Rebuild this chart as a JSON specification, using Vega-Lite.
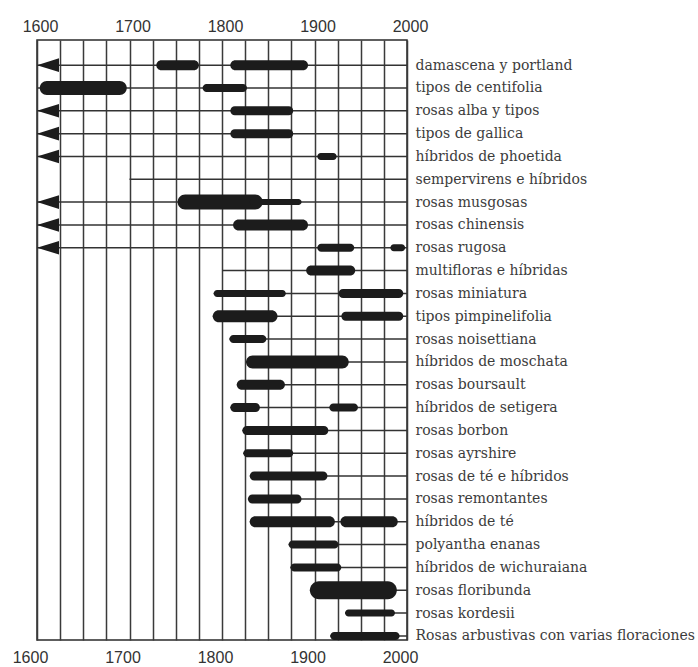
{
  "$schema": "https://vega.github.io/schema/vega-lite/v6.json",
  "autosize": "none",
  "width": 370,
  "height": 600,
  "padding": {"left": 37, "top": 40, "right": 291, "bottom": 27},
  "background": "white",
  "config": {
    "view": {"stroke": "#2a2a2a", "strokeWidth": 1.5},
    "axis": {"ticks": false, "domain": false, "title": null}
  },
  "datasets": {
    "filas": [
      {"grupo": "damascena y portland", "inicio": 1600, "flecha": true},
      {"grupo": "tipos de centifolia", "inicio": 1600, "flecha": false},
      {"grupo": "rosas alba y tipos", "inicio": 1600, "flecha": true},
      {"grupo": "tipos de gallica", "inicio": 1600, "flecha": true},
      {"grupo": "híbridos de phoetida", "inicio": 1600, "flecha": true},
      {"grupo": "sempervirens e híbridos", "inicio": 1700, "flecha": false},
      {"grupo": "rosas musgosas", "inicio": 1600, "flecha": true},
      {"grupo": "rosas chinensis", "inicio": 1600, "flecha": true},
      {"grupo": "rosas rugosa", "inicio": 1600, "flecha": true},
      {"grupo": "multifloras e híbridas", "inicio": 1800, "flecha": false},
      {"grupo": "rosas miniatura", "inicio": 1791, "flecha": false},
      {"grupo": "tipos pimpinelifolia", "inicio": 1790, "flecha": false},
      {"grupo": "rosas noisettiana", "inicio": 1808, "flecha": false},
      {"grupo": "híbridos de moschata", "inicio": 1826, "flecha": false},
      {"grupo": "rosas boursault", "inicio": 1816, "flecha": false},
      {"grupo": "híbridos de setigera", "inicio": 1809, "flecha": false},
      {"grupo": "rosas borbon", "inicio": 1822, "flecha": false},
      {"grupo": "rosas ayrshire", "inicio": 1823, "flecha": false},
      {"grupo": "rosas de té e híbridos", "inicio": 1830, "flecha": false},
      {"grupo": "rosas remontantes", "inicio": 1828, "flecha": false},
      {"grupo": "híbridos de té", "inicio": 1830, "flecha": false},
      {"grupo": "polyantha enanas", "inicio": 1872, "flecha": false},
      {"grupo": "híbridos de wichuraiana", "inicio": 1874, "flecha": false},
      {"grupo": "rosas floribunda", "inicio": 1895, "flecha": false},
      {"grupo": "rosas kordesii", "inicio": 1933, "flecha": false},
      {"grupo": "Rosas arbustivas con varias floraciones", "inicio": 1917, "flecha": false}
    ],
    "elipses": [
      {"grupo": "damascena y portland", "desde": 1729, "hasta": 1775, "popularidad": 5},
      {"grupo": "damascena y portland", "desde": 1809, "hasta": 1893, "popularidad": 5},
      {"grupo": "tipos de centifolia", "desde": 1603, "hasta": 1697, "popularidad": 7},
      {"grupo": "tipos de centifolia", "desde": 1779, "hasta": 1827, "popularidad": 4},
      {"grupo": "rosas alba y tipos", "desde": 1809, "hasta": 1877, "popularidad": 4.5},
      {"grupo": "tipos de gallica", "desde": 1809, "hasta": 1877, "popularidad": 4.5},
      {"grupo": "híbridos de phoetida", "desde": 1903, "hasta": 1924, "popularidad": 3.5},
      {"grupo": "rosas musgosas", "desde": 1752, "hasta": 1844, "popularidad": 7.5},
      {"grupo": "rosas musgosas", "desde": 1830, "hasta": 1886, "popularidad": 3},
      {"grupo": "rosas chinensis", "desde": 1812, "hasta": 1893, "popularidad": 5.5},
      {"grupo": "rosas rugosa", "desde": 1903, "hasta": 1943, "popularidad": 4},
      {"grupo": "rosas rugosa", "desde": 1982, "hasta": 1998, "popularidad": 3.5},
      {"grupo": "multifloras e híbridas", "desde": 1891, "hasta": 1944, "popularidad": 5},
      {"grupo": "rosas miniatura", "desde": 1791, "hasta": 1869, "popularidad": 3.5},
      {"grupo": "rosas miniatura", "desde": 1926, "hasta": 1996, "popularidad": 4.5},
      {"grupo": "tipos pimpinelifolia", "desde": 1790, "hasta": 1860, "popularidad": 6},
      {"grupo": "tipos pimpinelifolia", "desde": 1929, "hasta": 1996, "popularidad": 4.5},
      {"grupo": "rosas noisettiana", "desde": 1808, "hasta": 1848, "popularidad": 4},
      {"grupo": "híbridos de moschata", "desde": 1826, "hasta": 1937, "popularidad": 6.5},
      {"grupo": "rosas boursault", "desde": 1816, "hasta": 1868, "popularidad": 5},
      {"grupo": "híbridos de setigera", "desde": 1809, "hasta": 1841, "popularidad": 4.5},
      {"grupo": "híbridos de setigera", "desde": 1916, "hasta": 1947, "popularidad": 4},
      {"grupo": "rosas borbon", "desde": 1822, "hasta": 1915, "popularidad": 4.5},
      {"grupo": "rosas ayrshire", "desde": 1823, "hasta": 1877, "popularidad": 4},
      {"grupo": "rosas de té e híbridos", "desde": 1830, "hasta": 1914, "popularidad": 4.5},
      {"grupo": "rosas remontantes", "desde": 1828, "hasta": 1886, "popularidad": 4.5},
      {"grupo": "híbridos de té", "desde": 1830, "hasta": 1922, "popularidad": 5.5},
      {"grupo": "híbridos de té", "desde": 1928, "hasta": 1990, "popularidad": 5.5},
      {"grupo": "polyantha enanas", "desde": 1872, "hasta": 1926, "popularidad": 4},
      {"grupo": "híbridos de wichuraiana", "desde": 1874, "hasta": 1929, "popularidad": 4},
      {"grupo": "rosas floribunda", "desde": 1895, "hasta": 1989, "popularidad": 9},
      {"grupo": "rosas kordesii", "desde": 1933, "hasta": 1987, "popularidad": 3.5},
      {"grupo": "Rosas arbustivas con varias floraciones", "desde": 1917, "hasta": 1992, "popularidad": 4}
    ]
  },
  "layer": [
    {
      "data": {"name": "filas"},
      "mark": {"type": "rule", "color": "#333333", "strokeWidth": 1.5},
      "encoding": {
        "x": {
          "field": "inicio", "type": "quantitative",
          "scale": {"domain": [1600, 2000], "nice": false, "zero": false},
          "axis": {
            "orient": "bottom",
            "values": [1600, 1625, 1650, 1675, 1700, 1725, 1750, 1775, 1800, 1825, 1850, 1875, 1900, 1925, 1950, 1975, 2000],
            "format": "d",
            "labelExpr": "datum.value % 100 === 0 ? datum.label : ''",
            "labelFlush": false,
            "grid": true, "gridColor": "#3a3a3a", "gridWidth": 1.5,
            "labelFont": "Liberation Sans", "labelFontSize": 16, "labelColor": "#333333",
            "labelPadding": 9, "labelOffset": -7
          }
        },
        "x2": {"datum": 2000},
        "y": {
          "field": "grupo", "type": "nominal",
          "scale": {
            "type": "point", "padding": 0.64, "align": 0.86,
            "domain": ["damascena y portland", "tipos de centifolia", "rosas alba y tipos", "tipos de gallica", "híbridos de phoetida", "sempervirens e híbridos", "rosas musgosas", "rosas chinensis", "rosas rugosa", "multifloras e híbridas", "rosas miniatura", "tipos pimpinelifolia", "rosas noisettiana", "híbridos de moschata", "rosas boursault", "híbridos de setigera", "rosas borbon", "rosas ayrshire", "rosas de té e híbridos", "rosas remontantes", "híbridos de té", "polyantha enanas", "híbridos de wichuraiana", "rosas floribunda", "rosas kordesii", "Rosas arbustivas con varias floraciones"]
          },
          "axis": {
            "orient": "right", "grid": false,
            "labelFont": "DejaVu Serif", "labelFontSize": 14, "labelColor": "#3c3c3c",
            "labelPadding": 8, "labelLimit": 400
          }
        }
      }
    },
    {
      "data": {"name": "elipses"},
      "mark": {"type": "bar", "color": "#1c1c1c", "cornerRadius": 30},
      "encoding": {
        "x": {
          "field": "desde", "type": "quantitative",
          "axis": {
            "orient": "top",
            "values": [1600, 1700, 1800, 1900, 2000],
            "format": "d",
            "labelFlush": false,
            "grid": false,
            "labelFont": "Liberation Sans", "labelFontSize": 16, "labelColor": "#333333",
            "labelPadding": 6, "labelOffset": 3
          }
        },
        "x2": {"field": "hasta"},
        "y": {"field": "grupo", "type": "nominal"},
        "size": {
          "field": "popularidad", "type": "quantitative",
          "scale": {"domain": [0, 10], "range": [0, 20]},
          "legend": null
        }
      }
    },
    {
      "data": {"name": "filas"},
      "transform": [{"filter": "datum.flecha"}],
      "mark": {"type": "point", "filled": true, "opacity": 1, "color": "#1c1c1c", "size": 484, "shape": "M 0 0 L 2 -0.62 L 2 0.62 Z"},
      "encoding": {
        "x": {"field": "inicio", "type": "quantitative", "axis": null},
        "y": {"field": "grupo", "type": "nominal"}
      }
    }
  ]
}
